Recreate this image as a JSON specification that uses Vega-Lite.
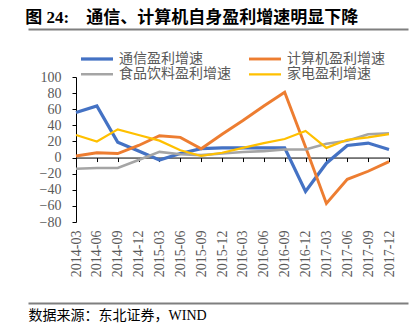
{
  "$schema": "https://vega.github.io/schema/vega-lite/v6.json",
  "width": 313,
  "height": 145,
  "autosize": {"type": "none"},
  "padding": {"left": 76, "top": 77, "right": 31, "bottom": 110},
  "background": "white",
  "config": {"view": {"stroke": null}, "font": "Liberation Serif, Noto Sans CJK SC"},
  "title": {
    "text": "图 24:\u00a0\u00a0\u00a0\u00a0通信、计算机自身盈利增速明显下降",
    "anchor": "start",
    "frame": "bounds",
    "orient": "top",
    "fontSize": 17,
    "fontWeight": "bold",
    "color": "#000000",
    "font": "Liberation Serif, Noto Sans CJK SC",
    "offset": 2
  },
  "data": {
    "values": [
      {"d": "2014-03", "通信盈利增速": 56, "计算机盈利增速": 2, "食品饮料盈利增速": -14, "家电盈利增速": 28},
      {"d": "2014-06", "通信盈利增速": 64, "计算机盈利增速": 6, "食品饮料盈利增速": -13, "家电盈利增速": 20},
      {"d": "2014-09", "通信盈利增速": 19, "计算机盈利增速": 5, "食品饮料盈利增速": -13, "家电盈利增速": 35},
      {"d": "2014-12", "通信盈利增速": 8, "计算机盈利增速": 15, "食品饮料盈利增速": -3, "家电盈利增速": 28},
      {"d": "2015-03", "通信盈利增速": -3, "计算机盈利增速": 27, "食品饮料盈利增速": 7, "家电盈利增速": 21},
      {"d": "2015-06", "通信盈利增速": 5, "计算机盈利增速": 25, "食品饮料盈利增速": 4, "家电盈利增速": 9},
      {"d": "2015-09", "通信盈利增速": 11, "计算机盈利增速": 11, "食品饮料盈利增速": 3, "家电盈利增速": 2},
      {"d": "2015-12", "通信盈利增速": 12, "计算机盈利增速": 29, "食品饮料盈利增速": 5, "家电盈利增速": 6},
      {"d": "2016-03", "通信盈利增速": 12, "计算机盈利增速": 46, "食品饮料盈利增速": 7, "家电盈利增速": 12},
      {"d": "2016-06", "通信盈利增速": 12, "计算机盈利增速": 64, "食品饮料盈利增速": 8, "家电盈利增速": 18},
      {"d": "2016-09", "通信盈利增速": 12, "计算机盈利增速": 81, "食品饮料盈利增速": 10, "家电盈利增速": 23},
      {"d": "2016-12", "通信盈利增速": -42, "计算机盈利增速": 13, "食品饮料盈利增速": 10, "家电盈利增速": 33},
      {"d": "2017-03", "通信盈利增速": -7, "计算机盈利增速": -57, "食品饮料盈利增速": 17, "家电盈利增速": 12},
      {"d": "2017-06", "通信盈利增速": 15, "计算机盈利增速": -27, "食品饮料盈利增速": 21, "家电盈利增速": 22},
      {"d": "2017-09", "通信盈利增速": 18, "计算机盈利增速": -17, "食品饮料盈利增速": 29, "家电盈利增速": 25},
      {"d": "2017-12", "通信盈利增速": 10, "计算机盈利增速": -5, "食品饮料盈利增速": 30, "家电盈利增速": 29}
    ]
  },
  "layer": [
    {
      "mark": {"type": "point", "opacity": 0},
      "encoding": {
        "x": {
          "field": "通信盈利增速",
          "type": "quantitative",
          "scale": {"domain": [-42, 64], "nice": false, "zero": false, "range": [-48, 332]},
          "axis": {"orient": "top", "offset": 48, "domain": true, "labels": false, "ticks": false, "grid": false, "domainColor": "#7f7f7f", "domainWidth": 2, "title": null}
        }
      }
    },
    {
      "mark": {"type": "point", "opacity": 0},
      "encoding": {
        "x": {
          "field": "计算机盈利增速",
          "type": "quantitative",
          "scale": {"domain": [-57, 81], "nice": false, "zero": false, "range": [-48, 332]},
          "axis": {
            "orient": "bottom", "offset": 81, "domain": true, "labels": false, "ticks": false, "grid": false,
            "domainColor": "#7f7f7f", "domainWidth": 2,
            "title": "数据来源：东北证券，WIND",
            "titleX": -48, "titleY": 12, "titleAlign": "left", "titleAnchor": "start", "titleBaseline": "middle",
            "titleFontSize": 14, "titleFontWeight": "normal", "titleColor": "#000000",
            "titleFont": "Liberation Serif, Noto Sans CJK SC"
          }
        }
      }
    },
    {
      "mark": {"type": "point", "opacity": 0},
      "encoding": {
        "x": {
          "field": "d",
          "type": "ordinal",
          "scale": {"type": "point", "padding": 0},
          "axis": {"orient": "bottom", "offset": -64.44, "labels": false, "ticks": true, "tickSize": 4, "tickColor": "#000000", "domainColor": "#000000", "grid": false, "title": null}
        }
      }
    },
    {
      "transform": [
        {"fold": ["通信盈利增速", "计算机盈利增速", "食品饮料盈利增速", "家电盈利增速"], "as": ["s", "v"]}
      ],
      "mark": {"type": "line"},
      "encoding": {
        "x": {
          "field": "d",
          "type": "ordinal",
          "scale": {"type": "point", "padding": 0},
          "axis": {"orient": "bottom", "domain": false, "ticks": false, "labelAngle": -90, "labelAlign": "right", "labelBaseline": "middle", "labelPadding": 8, "labelFontSize": 14, "labelColor": "#595959", "labelFont": "Liberation Serif", "title": null, "grid": false}
        },
        "y": {
          "field": "v",
          "type": "quantitative",
          "scale": {"domain": [-80, 100], "nice": false, "zero": false},
          "axis": {"values": [-80, -60, -40, -20, 0, 20, 40, 60, 80, 100], "grid": false, "domainColor": "#000000", "tickColor": "#000000", "tickSize": 4, "labelPadding": 11, "labelFontSize": 14, "labelColor": "#595959", "labelFont": "Liberation Serif", "title": null}
        },
        "color": {
          "field": "s",
          "type": "nominal",
          "scale": {
            "domain": ["通信盈利增速", "计算机盈利增速", "食品饮料盈利增速", "家电盈利增速"],
            "range": ["#4472C4", "#ED7D31", "#A5A5A5", "#FFC000"]
          },
          "legend": {
            "orient": "none", "legendX": 3, "legendY": -25, "columns": 2, "direction": "horizontal",
            "title": null, "padding": 0, "symbolType": "stroke", "symbolSize": 1024, "symbolStrokeWidth": 4,
            "clipHeight": 14,
            "labelOffset": 4, "labelFontSize": 14, "labelColor": "#595959", "labelFont": "Liberation Serif, Noto Sans CJK SC",
            "labelLimit": 300, "columnPadding": 16, "rowPadding": 1.3
          }
        },
        "strokeWidth": {
          "field": "s",
          "type": "nominal",
          "scale": {
            "domain": ["通信盈利增速", "计算机盈利增速", "食品饮料盈利增速", "家电盈利增速"],
            "range": [3.25, 2.2, 3.25, 3.25]
          },
          "legend": null
        }
      }
    }
  ],
  "resolve": {"scale": {"x": "independent"}, "axis": {"x": "independent"}}
}
